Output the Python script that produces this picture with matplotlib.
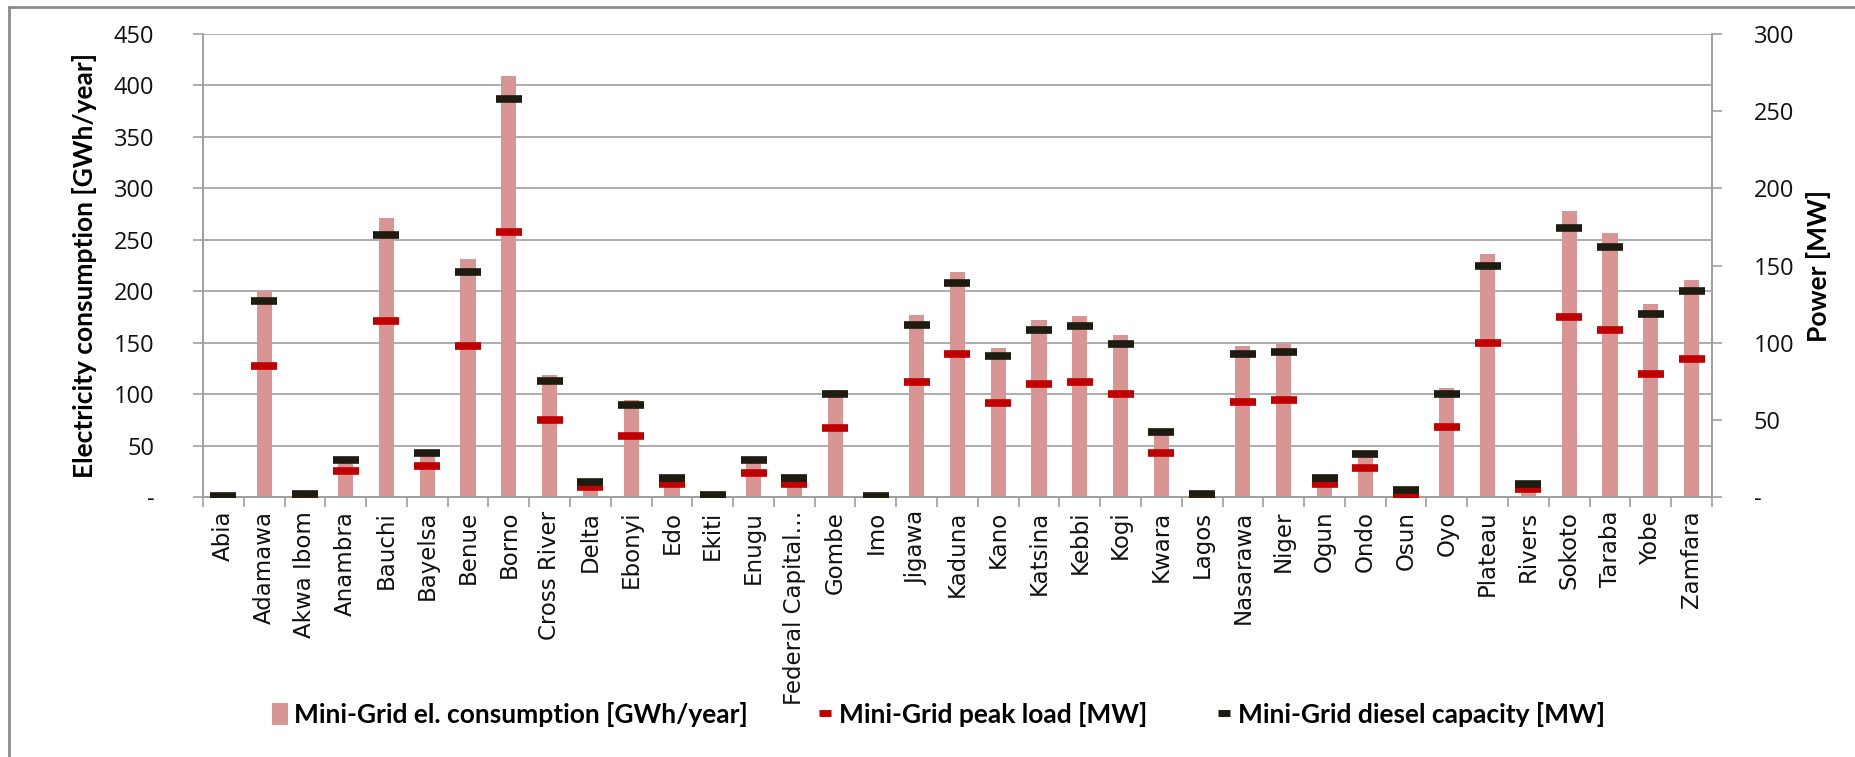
import matplotlib
matplotlib.use("Agg")
import matplotlib.pyplot as plt
from matplotlib.lines import Line2D
from matplotlib.patches import Patch
from matplotlib.ticker import FixedLocator, FuncFormatter
import numpy as np

states = ["Abia", "Adamawa", "Akwa Ibom", "Anambra", "Bauchi", "Bayelsa", "Benue",
          "Borno", "Cross River", "Delta", "Ebonyi", "Edo", "Ekiti", "Enugu",
          "Federal Capital\u2026", "Gombe", "Imo", "Jigawa", "Kaduna", "Kano",
          "Katsina", "Kebbi", "Kogi", "Kwara", "Lagos", "Nasarawa", "Niger", "Ogun",
          "Ondo", "Osun", "Oyo", "Plateau", "Rivers", "Sokoto", "Taraba", "Yobe",
          "Zamfara"]

# Mini-grid electricity consumption [GWh/year]
consumption_gwh = [1, 200, 2, 36, 271, 43, 231, 409, 119, 15, 94, 19, 1, 37, 19, 104,
                   1, 177, 219, 145, 172, 176, 157, 64, 3, 147, 149, 19, 41, 4, 106,
                   236, 11, 278, 257, 188, 211]

# Mini-grid peak load [MW]
peak_load_mw = [0.3, 85, 0.8, 16.6, 114, 19.8, 98, 172, 50, 6.5, 39.8, 8.2, 0.4, 15.8,
                8.2, 44.8, 0.3, 74.7, 92.5, 61, 73.2, 74.5, 66.5, 28.6, 1.2, 61.5, 63,
                8.2, 18.9, 1.3, 45.3, 99.6, 5.2, 116.5, 108.5, 79.5, 89.2]

# Mini-grid diesel capacity [MW]
diesel_capacity_mw = [0.5, 127, 2, 23.7, 170, 28.4, 146, 257.6, 75.3, 9.9, 59.8, 12.5,
                      1.1, 23.8, 12.6, 66.7, 0.6, 111.5, 138.4, 91.6, 108.5, 110.9, 99,
                      42.4, 2.2, 92.5, 94.2, 12.5, 27.6, 4.3, 66.8, 149.7, 8.2, 174.4,
                      161.8, 118.9, 133.4]

left_ticks = [0, 50, 100, 150, 200, 250, 300, 350, 400, 450]
right_ticks = [0, 50, 100, 150, 200, 250, 300]

BAR = "#d99594"
RED = "#c00000"
BLACK = "#1e1b10"
GRID = "#a6a6a6"
SPINE = "#a0a0a0"

NUM_FONT = "Open Sans"
LAB_FONT = "Lato"

fig = plt.figure(figsize=(18.55, 7.57), dpi=100)
ax = fig.add_axes([0.1094, 0.3435, 0.8135, 0.6115])
ax2 = ax.twinx()

x = np.arange(len(states))
ax.bar(x, consumption_gwh, width=0.37, color=BAR, zorder=2)

ax.set_ylim(0, 450)
ax.set_xlim(-0.5, len(states) - 0.5)
ax2.set_ylim(0, 300)

ax.yaxis.set_major_locator(FixedLocator(left_ticks))
ax2.yaxis.set_major_locator(FixedLocator(right_ticks))
dash_fmt = FuncFormatter(lambda v, p: "-" if v == 0 else f"{int(v)}")
ax.yaxis.set_major_formatter(dash_fmt)
ax2.yaxis.set_major_formatter(dash_fmt)

ax.grid(axis="y", color=GRID, linewidth=1.3, zorder=0)
ax.set_axisbelow(True)

# Dash markers for peak load and diesel capacity on the power axis
ax2.plot(x, peak_load_mw, linestyle="none", marker="_", markersize=19,
         markeredgewidth=5.5, color=RED, zorder=3)
ax2.plot(x, diesel_capacity_mw, linestyle="none", marker="_", markersize=19,
         markeredgewidth=5.5, color=BLACK, zorder=4)

# Category labels, with tick marks on the category boundaries
ax.set_xticks(x)
ax.set_xticklabels(states, rotation=90, fontsize=16.5, family="DejaVu Sans",
                   color="#111111")
ax.set_xticks(np.arange(-0.5, len(states), 1.0), minor=True)
ax.tick_params(axis="x", which="major", length=0, pad=10)
ax.tick_params(axis="x", which="minor", length=7, width=1.2, color=SPINE,
               direction="out")

for a in (ax, ax2):
    a.spines["top"].set_visible(False)
    for side in ("left", "right", "bottom"):
        a.spines[side].set_color(SPINE)
        a.spines[side].set_linewidth(1.3)

ax.tick_params(axis="y", length=7, width=1.2, color=SPINE, labelsize=17,
               pad=28, labelcolor="#111111")
ax2.tick_params(axis="y", length=7, width=1.2, color=SPINE, labelsize=17,
                pad=23, labelcolor="#111111")
for lbl in ax.get_yticklabels() + ax2.get_yticklabels():
    lbl.set_family(NUM_FONT)

ax.set_ylabel("Electricity consumption [GWh/year]", fontsize=19,
              fontweight="bold", family=LAB_FONT)
ax2.set_ylabel("Power [MW]", fontsize=19, fontweight="bold", family=LAB_FONT,
               rotation=90)
ax.yaxis.set_label_coords(-0.070, 0.5)
ax2.yaxis.set_label_coords(1.062, 0.5)

handles = [
    Patch(facecolor=BAR, edgecolor="none"),
    Line2D([], [], linestyle="none", marker="_", markersize=9,
           markeredgewidth=5, color=RED),
    Line2D([], [], linestyle="none", marker="_", markersize=9,
           markeredgewidth=5, color=BLACK),
]
labels = ["Mini-Grid el. consumption [GWh/year]", "Mini-Grid peak load [MW]",
          "Mini-Grid diesel capacity [MW]"]
fig.legend(handles, labels, loc="center", bbox_to_anchor=(0.506, 0.056), ncol=3,
           frameon=False, prop={"family": LAB_FONT, "weight": "bold", "size": 19},
           handlelength=0.6, handleheight=0.9, handletextpad=0.25, columnspacing=2.6)

# Chart-area border (top and left edges)
fig.add_artist(Line2D([0.005, 1.0], [0.9905, 0.9905], transform=fig.transFigure,
                      color="#8c8c8c", linewidth=2))
fig.add_artist(Line2D([0.005, 0.005], [0.0, 0.9905], transform=fig.transFigure,
                      color="#8c8c8c", linewidth=2))

fig.savefig("out.png", dpi=100, facecolor="white")
